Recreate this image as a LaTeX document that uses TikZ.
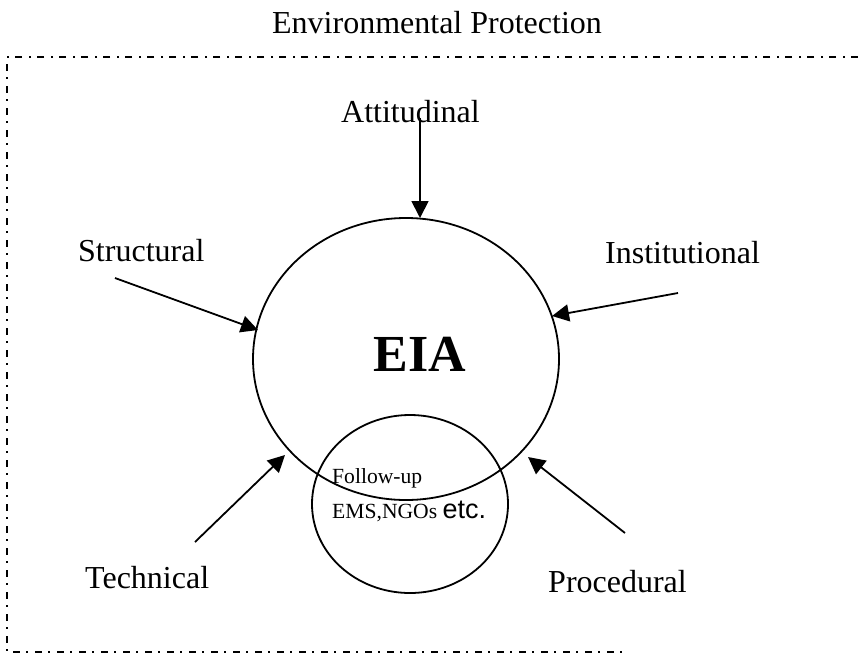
\documentclass[tikz,border=0pt]{standalone}
\usepackage{fontspec}
\setmainfont{Liberation Serif}
\newfontfamily\arialfont{Liberation Sans}
\usetikzlibrary{arrows.meta,shapes.geometric}
\begin{document}
\begin{tikzpicture}[x=1pt,y=-1pt,
  lbl/.style={inner sep=0pt,font=\fontsize{32}{36}\selectfont},
  small/.style={inner sep=0pt,font=\fontsize{21.6}{24}\selectfont},
  ring/.style={draw,ellipse,line width=1.8pt,inner sep=0pt,outer sep=0pt},
  inflow/.style={line width=1.8pt,-{Triangle[length=17pt,width=17pt]}},
  frame/.style={line width=1.8pt,dash pattern=on 7pt off 6pt on 2pt off 7pt}]
\useasboundingbox (0,0) rectangle (858,656);

% outer dash-dot frame
\coordinate (f1) at (858,57);
\coordinate (f2) at (7,57);
\coordinate (f3) at (7,652);
\coordinate (f4) at (623,652);
\draw[frame] (f1) -- (f2) -- (f3) -- (f4);

% title
\node[lbl,anchor=base] (title) at (437,33) {Environmental Protection};

% central EIA ellipse and the follow-up circle
\node[ring,minimum width=306pt,minimum height=282pt] (eia) at (406,359) {};
\node[ring,minimum width=196pt,minimum height=178pt] (fu) at (410,504) {};
\node[inner sep=0pt,font=\fontsize{52}{58}\selectfont\bfseries,anchor=base] (eiatext) at (420,371) {EIA};
\node[small,anchor=base west] (follow) at (332,483) {Follow-up};
\node[small,anchor=base west] (ems) at (332,518) {EMS,NGOs {\arialfont\fontsize{27}{30}\selectfont etc.}};

% surrounding factors
\node[lbl,anchor=base east] (att) at (480,122) {Attitudinal};
\node[lbl,anchor=base west] (str) at (78,261) {Structural};
\node[lbl,anchor=base west] (ins) at (605,263) {Institutional};
\node[lbl,anchor=base west] (tec) at (85,588) {Technical};
\node[lbl,anchor=base west] (pro) at (548,592) {Procedural};

% arrow ends
\coordinate (attS) at (420,118);
\coordinate (attT) at (420,218);
\coordinate (strS) at (115,278);
\coordinate (strT) at (258,330);
\coordinate (insS) at (678,293);
\coordinate (insT) at (552,316);
\coordinate (tecS) at (195,542);
\coordinate (tecT) at (285,455);
\coordinate (proS) at (625,533);
\coordinate (proT) at (528,457);

\draw[inflow] (attS) -- (attT);
\draw[inflow] (strS) -- (strT);
\draw[inflow] (insS) -- (insT);
\draw[inflow] (tecS) -- (tecT);
\draw[inflow] (proS) -- (proT);
\end{tikzpicture}
\end{document}
